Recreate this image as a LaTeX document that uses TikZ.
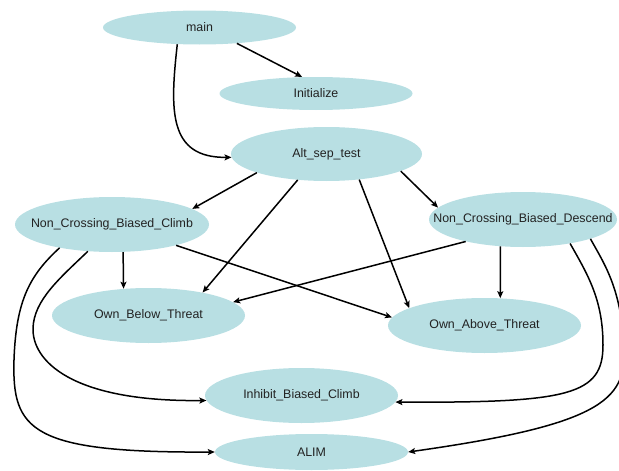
\documentclass[tikz,border=0pt]{standalone}
\usepackage{fontspec}
\setmainfont{Liberation Sans}
\usetikzlibrary{shapes.geometric,arrows.meta}
\definecolor{nodefill}{HTML}{B8DFE3}
\definecolor{txt}{HTML}{222222}
\newcommand{\lbl}[1]{\makebox[0pt]{#1}}
\tikzset{
  fn/.style={ellipse, fill=nodefill, inner sep=0pt, text=txt,
    font=\fontsize{12.4}{14}\selectfont},
  big/.style={minimum width=193pt, minimum height=55pt},
  small/.style={minimum width=193pt, minimum height=34pt},
  edge/.style={draw=black, line width=1.5pt, -{Stealth[length=7pt,width=6pt,inset=1.5pt]}}
}
\begin{document}
\begin{tikzpicture}[x=1pt,y=-1pt]
\useasboundingbox (0,0) rectangle (619,471);
\clip (0,0) rectangle (619,471);
\node[fn, small] (main) at (199.5,27.5) {\lbl{main}};
\node[fn, small, minimum height=33pt] (init) at (316,93.5) {\lbl{Initialize}};
\node[fn, big, minimum width=191pt, minimum height=54pt] (alt) at (326.5,154) {\lbl{Alt\_sep\_test}};
\node[fn, big, minimum width=194pt] (ncbc) at (112,224.5) {\lbl{Non\_Crossing\_Biased\_Climb}};
\node[fn, big, minimum width=188pt] (ncbd) at (523,219.5) {\lbl{Non\_Crossing\_Biased\_Descend}};
\node[fn, big] (obt) at (148.5,315.5) {\lbl{Own\_Below\_Threat}};
\node[fn, big] (oat) at (484.5,325.5) {\lbl{Own\_Above\_Threat}};
\node[fn, big] (ibc) at (301.5,395.5) {\lbl{Inhibit\_Biased\_Climb}};
\node[fn, small, minimum height=36pt] (alim) at (311.5,452) {\lbl{ALIM}};

\draw[edge] (main.-23.4) -- (init.130.9);
\draw[edge] (main.217.9) .. controls (170,110) and (168,158) .. (alt.182.4);
\draw[edge] (alt.195.6) -- (ncbc.11.8);
\draw[edge] (alt.222.6) -- (obt.23.3);
\draw[edge] (alt.-38.3) -- (oat.167.4);
\draw[edge] (alt.-13.4) -- (ncbd.172.8);
\draw[edge] (ncbc.-68) -- (obt.133);
\draw[edge] (ncbc.-18.3) -- (oat.175.6);
\draw[edge] (ncbd.201.4) -- (obt.9.2);
\draw[edge] (ncbd.230.1) -- (oat.60.6);
\draw[edge] (ncbc.204.3) .. controls (30,275) and (16,300) .. (14,360)
  .. controls (12,430) and (30,453) .. (alim.west);
\draw[edge] (ncbc.228.7) .. controls (60,278) and (34,300) .. (33,328)
  .. controls (32,360) and (70,402) .. (ibc.183.3);
\draw[edge] (ncbd.-27) .. controls (588,275) and (603,300) .. (603,345)
  .. controls (603,395) and (570,403) .. (ibc.-4.4);
\draw[edge] (ncbd.-16.1) .. controls (605,265) and (622,290) .. (624,350)
  .. controls (626,400) and (600,425) .. (alim.east);
\end{tikzpicture}
\end{document}
